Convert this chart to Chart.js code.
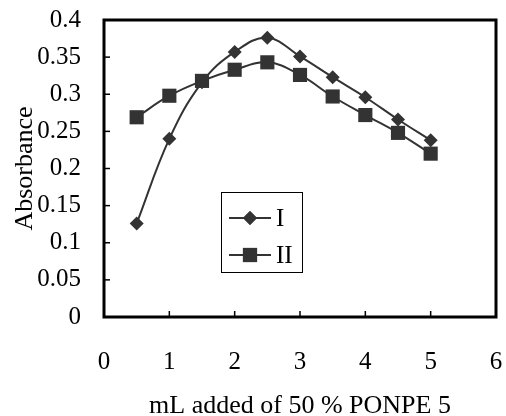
<!DOCTYPE html>
<html>
<head>
<meta charset="utf-8">
<script src="https://cdn.jsdelivr.net/npm/chart.js@4"></script>
<style>
  html, body { margin: 0; padding: 0; background: #fff; }
  #wrap { width: 506px; height: 416px; }
</style>
</head>
<body>
<div id="wrap"><canvas id="chart"></canvas></div>
<script>
// data
const volumes = [0.5, 1, 1.5, 2, 2.5, 3, 3.5, 4, 4.5, 5];
const seriesI = [0.126, 0.240, 0.316, 0.357, 0.376, 0.351, 0.323, 0.296, 0.266, 0.238];
const seriesII = [0.269, 0.298, 0.318, 0.333, 0.343, 0.326, 0.297, 0.272, 0.248, 0.220];
const seriesNames = ["I", "II"];
const xTicks = [0, 1, 2, 3, 4, 5, 6];
const yTicks = [0, 0.05, 0.1, 0.15, 0.2, 0.25, 0.3, 0.35, 0.4];

const ink = "#333333";
const serif = "'Liberation Serif', 'Times New Roman', serif";
const fontSize = 25;

const toPoints = ys => volumes.map((x, i) => ({ x, y: ys[i] }));

// box + inward tick marks
const frame = {
  id: "frame",
  afterDraw(chart) {
    const { ctx, chartArea: a, scales } = chart;
    ctx.save();
    ctx.strokeStyle = "#000";
    ctx.lineWidth = 1.5;
    scales.x.ticks.forEach(t => {
      const px = scales.x.getPixelForValue(t.value);
      ctx.beginPath();
      ctx.moveTo(px, a.bottom);
      ctx.lineTo(px, a.bottom - 6);
      ctx.stroke();
    });
    scales.y.ticks.forEach(t => {
      const py = scales.y.getPixelForValue(t.value);
      ctx.beginPath();
      ctx.moveTo(a.left, py);
      ctx.lineTo(a.left + 6, py);
      ctx.stroke();
    });
    ctx.lineWidth = 3;
    ctx.strokeRect(a.left, a.top, a.right - a.left, a.bottom - a.top);
    ctx.restore();
  }
};

// legend box inside the plot
const insideLegend = {
  id: "insideLegend",
  afterDraw(chart) {
    const { ctx, scales } = chart;
    const bx = Math.round(scales.x.getPixelForValue(1.79));
    const by = Math.round(scales.y.getPixelForValue(0.169));
    const bw = 81, bh = 80;
    ctx.save();
    ctx.fillStyle = "#fff";
    ctx.fillRect(bx, by, bw, bh);
    ctx.strokeStyle = "#000";
    ctx.lineWidth = 1;
    ctx.strokeRect(bx + 0.5, by + 0.5, bw, bh);
    chart.data.datasets.forEach((ds, i) => {
      const cy = by + 26 + i * 37;
      ctx.strokeStyle = ds.borderColor;
      ctx.lineWidth = 2;
      ctx.beginPath();
      ctx.moveTo(bx + 8, cy);
      ctx.lineTo(bx + 50, cy);
      ctx.stroke();
      ctx.fillStyle = ds.pointBackgroundColor;
      Chart.helpers.drawPoint(ctx, { pointStyle: ds.pointStyle, radius: ds.pointRadius, rotation: 0, borderWidth: 0 }, bx + 29, cy);
      ctx.fill();
      ctx.fillStyle = "#000";
      ctx.font = fontSize + "px " + serif;
      ctx.textBaseline = "middle";
      ctx.fillText(ds.label, bx + 55, cy + 1);
    });
    ctx.restore();
  }
};

const noPad = s => {
  s.paddingTop = 0;
  s.paddingBottom = 0;
  s.paddingLeft = 0;
  s.paddingRight = 0;
};

new Chart(document.getElementById("chart"), {
  type: "line",
  data: {
    datasets: [
      {
        label: seriesNames[0],
        data: toPoints(seriesI),
        borderColor: ink,
        borderWidth: 2,
        tension: 0.4,
        pointStyle: "rectRot",
        pointRadius: 7,
        pointBackgroundColor: ink,
        pointBorderWidth: 0
      },
      {
        label: seriesNames[1],
        data: toPoints(seriesII),
        borderColor: ink,
        borderWidth: 2,
        tension: 0.4,
        pointStyle: "rect",
        pointRadius: 10,
        pointBackgroundColor: ink,
        pointBorderWidth: 0
      }
    ]
  },
  options: {
    responsive: true,
    maintainAspectRatio: false,
    animation: false,
    layout: { padding: { left: 0, right: 5, top: 20, bottom: 0 } },
    plugins: {
      legend: { display: false },
      tooltip: { enabled: false }
    },
    scales: {
      x: {
        type: "linear",
        min: 0,
        max: 6,
        afterBuildTicks: s => { s.ticks = xTicks.map(v => ({ value: v })); },
        afterFit: s => { s.height = 99; noPad(s); },
        grid: { display: false, drawTicks: false },
        border: { display: false },
        ticks: { color: "#000", padding: 30, maxRotation: 0, font: { family: serif, size: fontSize } },
        title: {
          display: true,
          text: "mL added of 50 % PONPE 5",
          color: "#000",
          font: { family: serif, size: 26, lineHeight: 1 },
          padding: { top: 0, bottom: -3 }
        }
      },
      y: {
        min: 0,
        max: 0.4,
        afterBuildTicks: s => { s.ticks = yTicks.map(v => ({ value: v })); },
        afterFit: s => { s.width = 104; noPad(s); },
        grid: { display: false, drawTicks: false },
        border: { display: false },
        ticks: {
          color: "#000",
          padding: 23,
          font: { family: serif, size: fontSize },
          callback: v => String(+v.toFixed(2))
        },
        title: {
          display: true,
          text: "Absorbance",
          color: "#000",
          font: { family: serif, size: 26, lineHeight: 1 },
          padding: { top: 12, bottom: 0 }
        }
      }
    }
  },
  plugins: [frame, insideLegend]
});
</script>
</body>
</html>
